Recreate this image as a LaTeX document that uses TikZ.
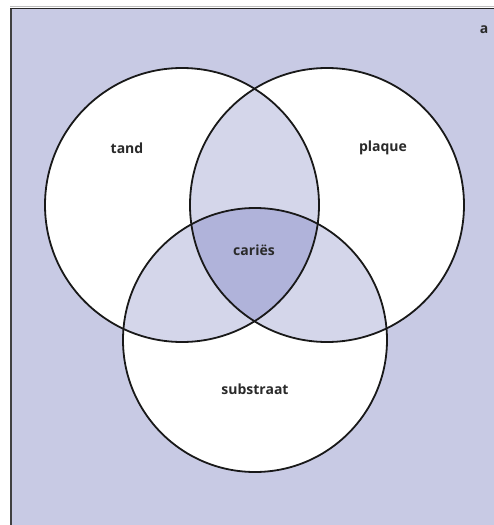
\documentclass[tikz,border=0pt]{standalone}
\usepackage{fontspec}
\setmainfont{Open Sans}
\definecolor{bgl}{HTML}{C8CAE4}
\definecolor{pairc}{HTML}{D4D6EA}
\definecolor{triplec}{HTML}{B0B3DA}
\definecolor{txtc}{HTML}{2A2A2A}
\tikzset{
  lbl/.style={font=\fontsize{14}{16}\selectfont\bfseries, text=txtc, inner sep=0pt},
  ring/.style={draw=black!90, line width=1.8pt}
}
\begin{document}
\begin{tikzpicture}[x=1pt,y=-1pt]
\useasboundingbox (0,0) rectangle (494,525);
\fill[bgl] (10,8) rectangle (494,525);
\draw[black!75, line width=2pt] (11,525) -- (11,8.5);
\draw[black!85, line width=1.5pt] (10,8.5) -- (494,8.5);
\draw[black!25, line width=1pt] (10,6.8) -- (494,6.8);
\def\Lc{(182,205) circle[radius=137]}
\def\Rc{(327,205) circle[radius=137]}
\def\Bc{(255,340) circle[radius=132]}
\fill[white] \Lc; \fill[white] \Rc; \fill[white] \Bc;
\begin{scope}\clip \Lc; \fill[pairc] \Rc; \fill[pairc] \Bc; \end{scope}
\begin{scope}\clip \Rc; \fill[pairc] \Bc; \end{scope}
\begin{scope}\clip \Lc; \clip \Rc; \fill[triplec] \Bc; \end{scope}
\draw[ring] \Lc; \draw[ring] \Rc; \draw[ring] \Bc;
\node[lbl] (tand) at (127,148) {tand};
\node[lbl] (plaque) at (383,148) {plaque};
\node[lbl] (caries) at (254,250) {cariës};
\node[lbl] (substraat) at (255,389) {substraat};
\node[lbl] (a) at (484,30) {a};
\end{tikzpicture}
\end{document}
